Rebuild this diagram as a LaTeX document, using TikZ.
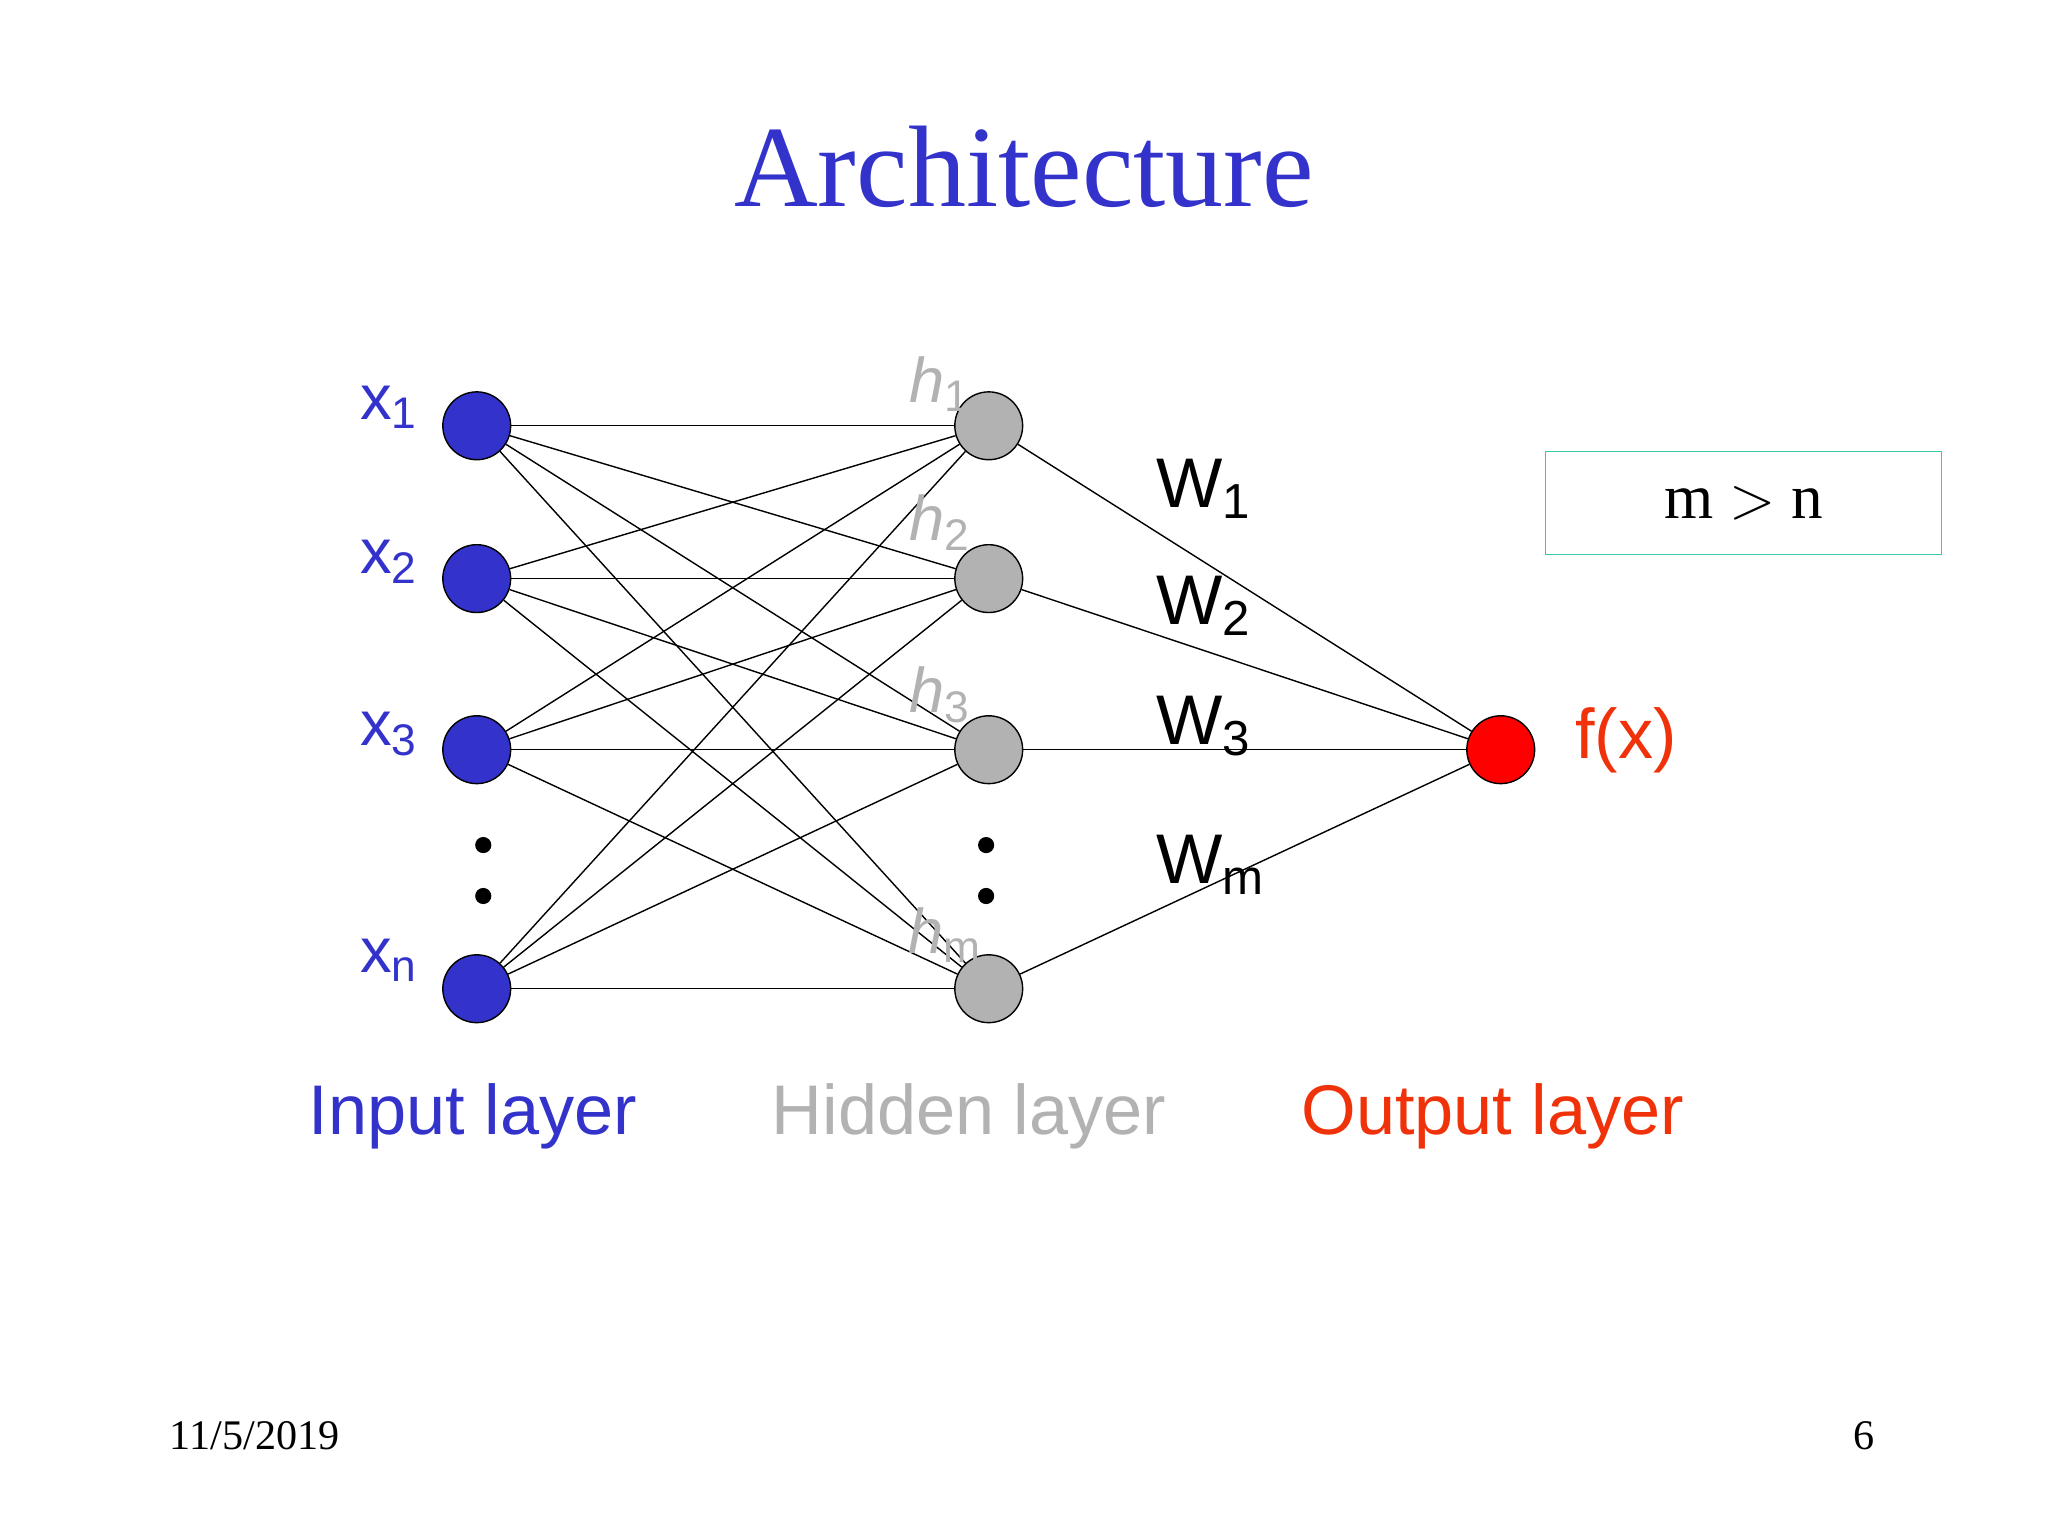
\documentclass[tikz,border=0pt]{standalone}
\usepackage{fontspec}
\setmainfont{Liberation Serif}
\newfontfamily\sansf{Liberation Sans}
\definecolor{inblue}{RGB}{51,51,204}
\definecolor{hidgray}{RGB}{178,178,178}
\definecolor{outred}{RGB}{240,50,10}
\definecolor{boxteal}{RGB}{60,200,170}
\tikzset{
  unit/.style={circle, draw=black, thin, minimum size=19.3pt, inner sep=0pt},
  lab/.style={font=\sansf\fontsize{18}{20}\selectfont},
  wlab/.style={font=\sansf\fontsize{20}{22}\selectfont},
  dot/.style={circle, fill=black, minimum size=4.6pt, inner sep=0pt}
}
\begin{document}
\begin{tikzpicture}[x=0.013061cm, y=-0.013061cm]
\useasboundingbox (0,0) rectangle (1568,1176);
\node[inblue, font=\fontsize{33}{36}\selectfont] (title) at (784,128) {Architecture};
% input layer
\node[unit, fill=inblue] (i1) at (365,326) {};
\node[unit, fill=inblue] (i2) at (365,443) {};
\node[unit, fill=inblue] (i3) at (365,574) {};
\node[unit, fill=inblue] (in) at (365,757) {};
% hidden layer
\node[unit, fill=hidgray] (h1) at (757,326) {};
\node[unit, fill=hidgray] (h2) at (757,443) {};
\node[unit, fill=hidgray] (h3) at (757,574) {};
\node[unit, fill=hidgray] (hm) at (757,757) {};
% output
\node[unit, fill=red] (o) at (1149,574) {};
\foreach \a in {i1,i2,i3,in}
  \foreach \b in {h1,h2,h3,hm}
    \draw[thin] (\a) -- (\b);
\foreach \b in {h1,h2,h3,hm}
  \draw[thin] (\b) -- (o);
% dots
\node[dot] (d1) at (370,647) {};
\node[dot] (d2) at (370,686) {};
\node[dot] (d3) at (755,647) {};
\node[dot] (d4) at (755,686) {};
% labels
\node[lab, inblue] (lx1) at (298,312) {x\textsubscript{1}};
\node[lab, inblue] (lx2) at (298,430) {x\textsubscript{2}};
\node[lab, inblue] (lx3) at (298,562) {x\textsubscript{3}};
\node[lab, inblue] (lxn) at (298,735) {x\textsubscript{n}};
\node[lab, hidgray] (lh1) at (720,294) {\textit{h}\textsubscript{1}};
\node[lab, hidgray] (lh2) at (720,400) {\textit{h}\textsubscript{2}};
\node[lab, hidgray] (lh3) at (720,532) {\textit{h}\textsubscript{3}};
\node[lab, hidgray] (lhm) at (724,716) {\textit{h}\textsubscript{m}};
\node[wlab] (w1) at (922,374) {W\textsubscript{1}};
\node[wlab] (w2) at (922,464) {W\textsubscript{2}};
\node[wlab] (w3) at (922,556) {W\textsubscript{3}};
\node[wlab] (wm) at (927,662) {W\textsubscript{m}};
\node[wlab, outred] (fx) at (1245,567) {f(x)};
\node[draw=boxteal, thin, minimum width=112.7pt, minimum height=29.3pt, font=\fontsize{18}{20}\selectfont] (cond) at (1335,385) {m $>$ n};
\node[wlab, inblue] (li) at (362,855) {Input layer};
\node[wlab, hidgray] (lh) at (742,855) {Hidden layer};
\node[wlab, outred] (lo) at (1143,855) {Output layer};
\node[font=\fontsize{12}{14}\selectfont] (date) at (195,1099) {11/5/2019};
\node[font=\fontsize{12}{14}\selectfont] (page) at (1427,1099) {6};
\end{tikzpicture}
\end{document}
